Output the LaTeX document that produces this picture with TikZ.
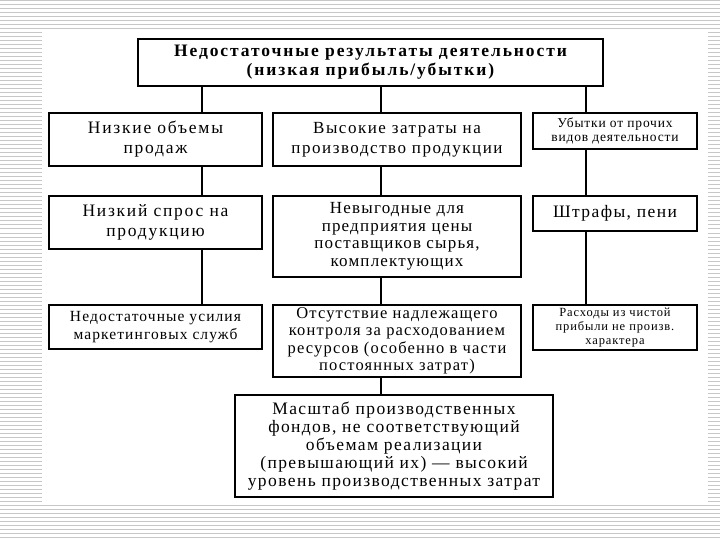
\documentclass[tikz,border=0pt]{standalone}
\usepackage{fontspec}
\setmainfont{Liberation Serif}
\tikzset{
  box/.style={draw=black, line width=1.3pt, fill=white, align=center, inner sep=0pt},
  link/.style={draw=black, line width=1.3pt},
  fbig/.style={font=\fontsize{17}{20}\selectfont\addfontfeature{LetterSpace=9}},
  fmid/.style={font=\fontsize{16.5}{17.5}\selectfont\addfontfeature{LetterSpace=7}},
  fsmall/.style={font=\fontsize{13.5}{14.5}\selectfont\addfontfeature{LetterSpace=6}},
  ftop/.style={font=\fontsize{17.5}{19}\selectfont\bfseries\addfontfeature{LetterSpace=11}},
  stripe/.style={draw=black!22, line width=1pt}
}
\begin{document}
\begin{tikzpicture}[x=1pt,y=-1pt]
\useasboundingbox (0,0) rectangle (720,540);
% striped slide background
\foreach \k in {0,...,135} {
  \draw[stripe] (0,{\k*4+1}) -- (720,{\k*4+1});
}
\fill[white] (42,30) rectangle (708,503);

% nodes
\node[box, ftop, minimum width=465pt, minimum height=47pt] (top) at (370.5,62.5)
  {Недостаточные результаты деятельности\\(низкая прибыль/убытки)};

\node[box, fbig, font=\fontsize{17.5}{20}\selectfont\addfontfeature{LetterSpace=10}, minimum width=213pt, minimum height=53pt] (l1) at (155.5,139.5)
  {Низкие объемы\\продаж};
\node[box, fbig, minimum width=248pt, minimum height=53pt] (m1) at (397,139.5)
  {Высокие затраты на\\производство продукции};
\node[box, fsmall, minimum width=164pt, minimum height=36pt] (r1) at (615,131)
  {Убытки от прочих\\видов деятельности};

\node[box, fbig, font=\fontsize{17.5}{20}\selectfont\addfontfeature{LetterSpace=10}, minimum width=213pt, minimum height=53pt] (l2) at (155.5,222.5)
  {Низкий спрос на\\продукцию};
\node[box, fmid, font=\fontsize{17}{17.5}\selectfont\addfontfeature{LetterSpace=7}, minimum width=248pt, minimum height=81pt] (m2) at (397,236.5)
  {Невыгодные для\\предприятия цены\\поставщиков сырья,\\комплектующих};
\node[box, fbig, font=\fontsize{17.5}{20}\selectfont\addfontfeature{LetterSpace=8}, minimum width=164pt, minimum height=35pt] (r2) at (615,213.5)
  {Штрафы, пени};

\node[box, fmid, font=\fontsize{15.5}{18}\selectfont\addfontfeature{LetterSpace=7}, minimum width=213pt, minimum height=44pt] (l3) at (155.5,327)
  {Недостаточные усилия\\маркетинговых служб};
\node[box, fmid, minimum width=248pt, minimum height=72pt] (m3) at (397,341)
  {Отсутствие надлежащего\\контроля за расходованием\\ресурсов (особенно в части\\постоянных затрат)};
\node[box, fsmall, font=\fontsize{12.5}{14}\selectfont\addfontfeature{LetterSpace=7}, minimum width=164pt, minimum height=45pt] (r3) at (615,327.5)
  {Расходы из чистой\\прибыли не произв.\\характера};

\node[box, font=\fontsize{17.5}{18}\selectfont\addfontfeature{LetterSpace=8}, minimum width=318pt, minimum height=102pt] (b) at (394,446)
  {Масштаб производственных\\фондов, не соответствующий\\объемам реализации\\(превышающий их) --- высокий\\уровень производственных затрат};

% connector columns
\coordinate (cl) at (202,0);
\coordinate (cm) at (381,0);
\coordinate (cr) at (586,0);

\draw[link] (top.south -| cl) -- (l1.north -| cl);
\draw[link] (l1.south -| cl) -- (l2.north -| cl);
\draw[link] (l2.south -| cl) -- (l3.north -| cl);

\draw[link] (top.south -| cm) -- (m1.north -| cm);
\draw[link] (m1.south -| cm) -- (m2.north -| cm);
\draw[link] (m2.south -| cm) -- (m3.north -| cm);
\draw[link] (m3.south -| cm) -- (b.north -| cm);

\draw[link] (top.south -| cr) -- (r1.north -| cr);
\draw[link] (r1.south -| cr) -- (r2.north -| cr);
\draw[link] (r2.south -| cr) -- (r3.north -| cr);
\end{tikzpicture}
\end{document}
